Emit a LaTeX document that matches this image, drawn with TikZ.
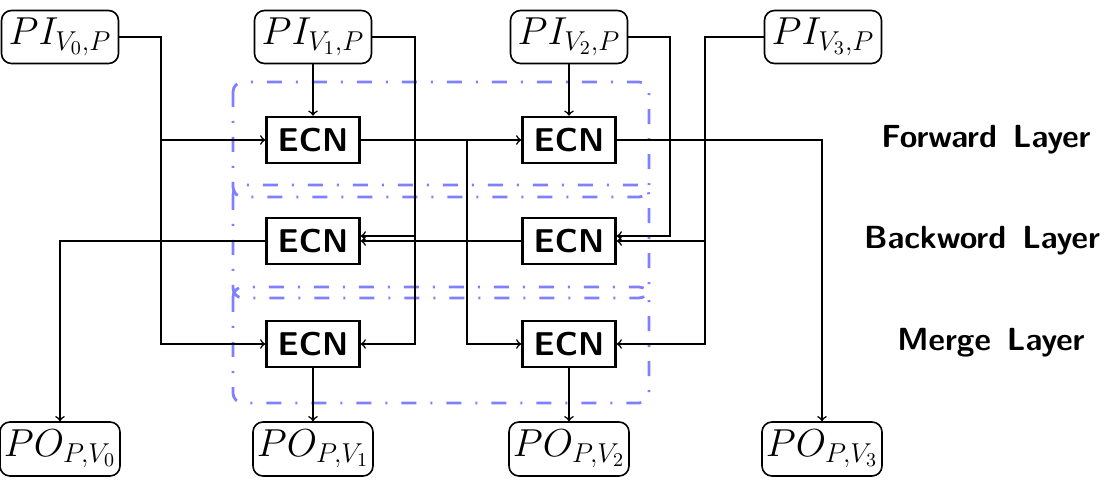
\RequirePackage{fix-cm}
\documentclass[tikz,border=0pt]{standalone}
\usetikzlibrary{calc,arrows}
\begin{document}
\begin{tikzpicture}[x=0.5pt,y=-0.5pt,
  io/.style={draw,line width=0.8pt,rounded corners=5pt,minimum width=58.5pt,minimum height=26.5pt,inner sep=0pt,font=\fontsize{19.5}{23}\selectfont},
  ecn/.style={draw,line width=1.3pt,minimum width=46.5pt,minimum height=23pt,inner sep=0pt,font=\fontsize{16.5}{20}\selectfont\sffamily\bfseries},
  lay/.style={draw=blue!50,line width=1.4pt,rounded corners=5pt,dash pattern=on 7.5pt off 7pt on 1pt off 7pt},
  lbl/.style={font=\fontsize{16}{19}\selectfont\sffamily\bfseries},
  conn/.style={line width=0.8pt,->}]
\useasboundingbox (0,0) rectangle (1105,492);
% layers
\draw[lay] (233,82) rectangle (649,197);
\draw[lay] (233,185) rectangle (649,298);
\draw[lay] (233,287) rectangle (649,403);
% inputs
\node[io] (PI0) at (60,37) {$PI_{V_0,P}$};
\node[io] (PI1) at (313,37) {$PI_{V_1,P}$};
\node[io] (PI2) at (569,37) {$PI_{V_2,P}$};
\node[io] (PI3) at (823,37) {$PI_{V_3,P}$};
% outputs
\node[io,minimum width=60pt,minimum height=27pt] (PO0) at (60,449) {$PO_{P,V_0}$};
\node[io,minimum width=60pt,minimum height=27pt] (PO1) at (313,449) {$PO_{P,V_1}$};
\node[io,minimum width=60pt,minimum height=27pt] (PO2) at (569,449) {$PO_{P,V_2}$};
\node[io,minimum width=60pt,minimum height=27pt] (PO3) at (822,449) {$PO_{P,V_3}$};
% ECN
\node[ecn] (F1) at (313,140) {ECN};
\node[ecn] (F2) at (569,140) {ECN};
\node[ecn] (B1) at (313,241) {ECN};
\node[ecn] (B2) at (569,241) {ECN};
\node[ecn] (M1) at (313,344) {ECN};
\node[ecn] (M2) at (569,344) {ECN};
% labels
\node[lbl] (LF) at (986,140) {Forward\hspace{0.5em}Layer};
\node[lbl] (LB) at (982,241) {Backword\hspace{0.5em}Layer};
\node[lbl] (LM) at (991,343) {Merge\hspace{0.5em}Layer};
% junction columns
\coordinate (x0) at (161,0);
\coordinate (x1) at (415,0);
\coordinate (x2) at (467,0);
\coordinate (x3) at (670,0);
\coordinate (x4) at (705,0);
% connectors
\draw[conn] (PI0.east) -| (x0 |- F1.west) -- (F1.west);
\draw[conn] (PI0.east) -| (x0 |- M1.west) -- (M1.west);
\draw[conn] (PI1.south) -- (F1.north);
\draw[conn] (PI2.south) -- (F2.north);
\draw[conn] (PI1.east) -| ($(x1 |- B1.east)+(0,-5)$) -- ($(B1.east)+(0,-5)$);
\draw[conn] (PI1.east) -| (x1 |- M1.east) -- (M1.east);
\draw[conn] (F1.east) -- (F2.west);
\draw[conn] (F1.east) -| (x2 |- M2.west) -- (M2.west);
\draw[conn] (PI2.east) -| ($(x3 |- B2.east)+(0,-5)$) -- ($(B2.east)+(0,-5)$);
\draw[conn] (PI3.west) -| (x4 |- B2.east) -- (B2.east);
\draw[conn] (PI3.west) -| (x4 |- M2.east) -- (M2.east);
\draw[conn] (B2.west) -- (B1.east);
\draw[conn] (B1.west) -| (PO0.north);
\draw[conn] (F2.east) -| (PO3.north);
\draw[conn] (M1.south) -- (PO1.north);
\draw[conn] (M2.south) -- (PO2.north);
\end{tikzpicture}
\end{document}
